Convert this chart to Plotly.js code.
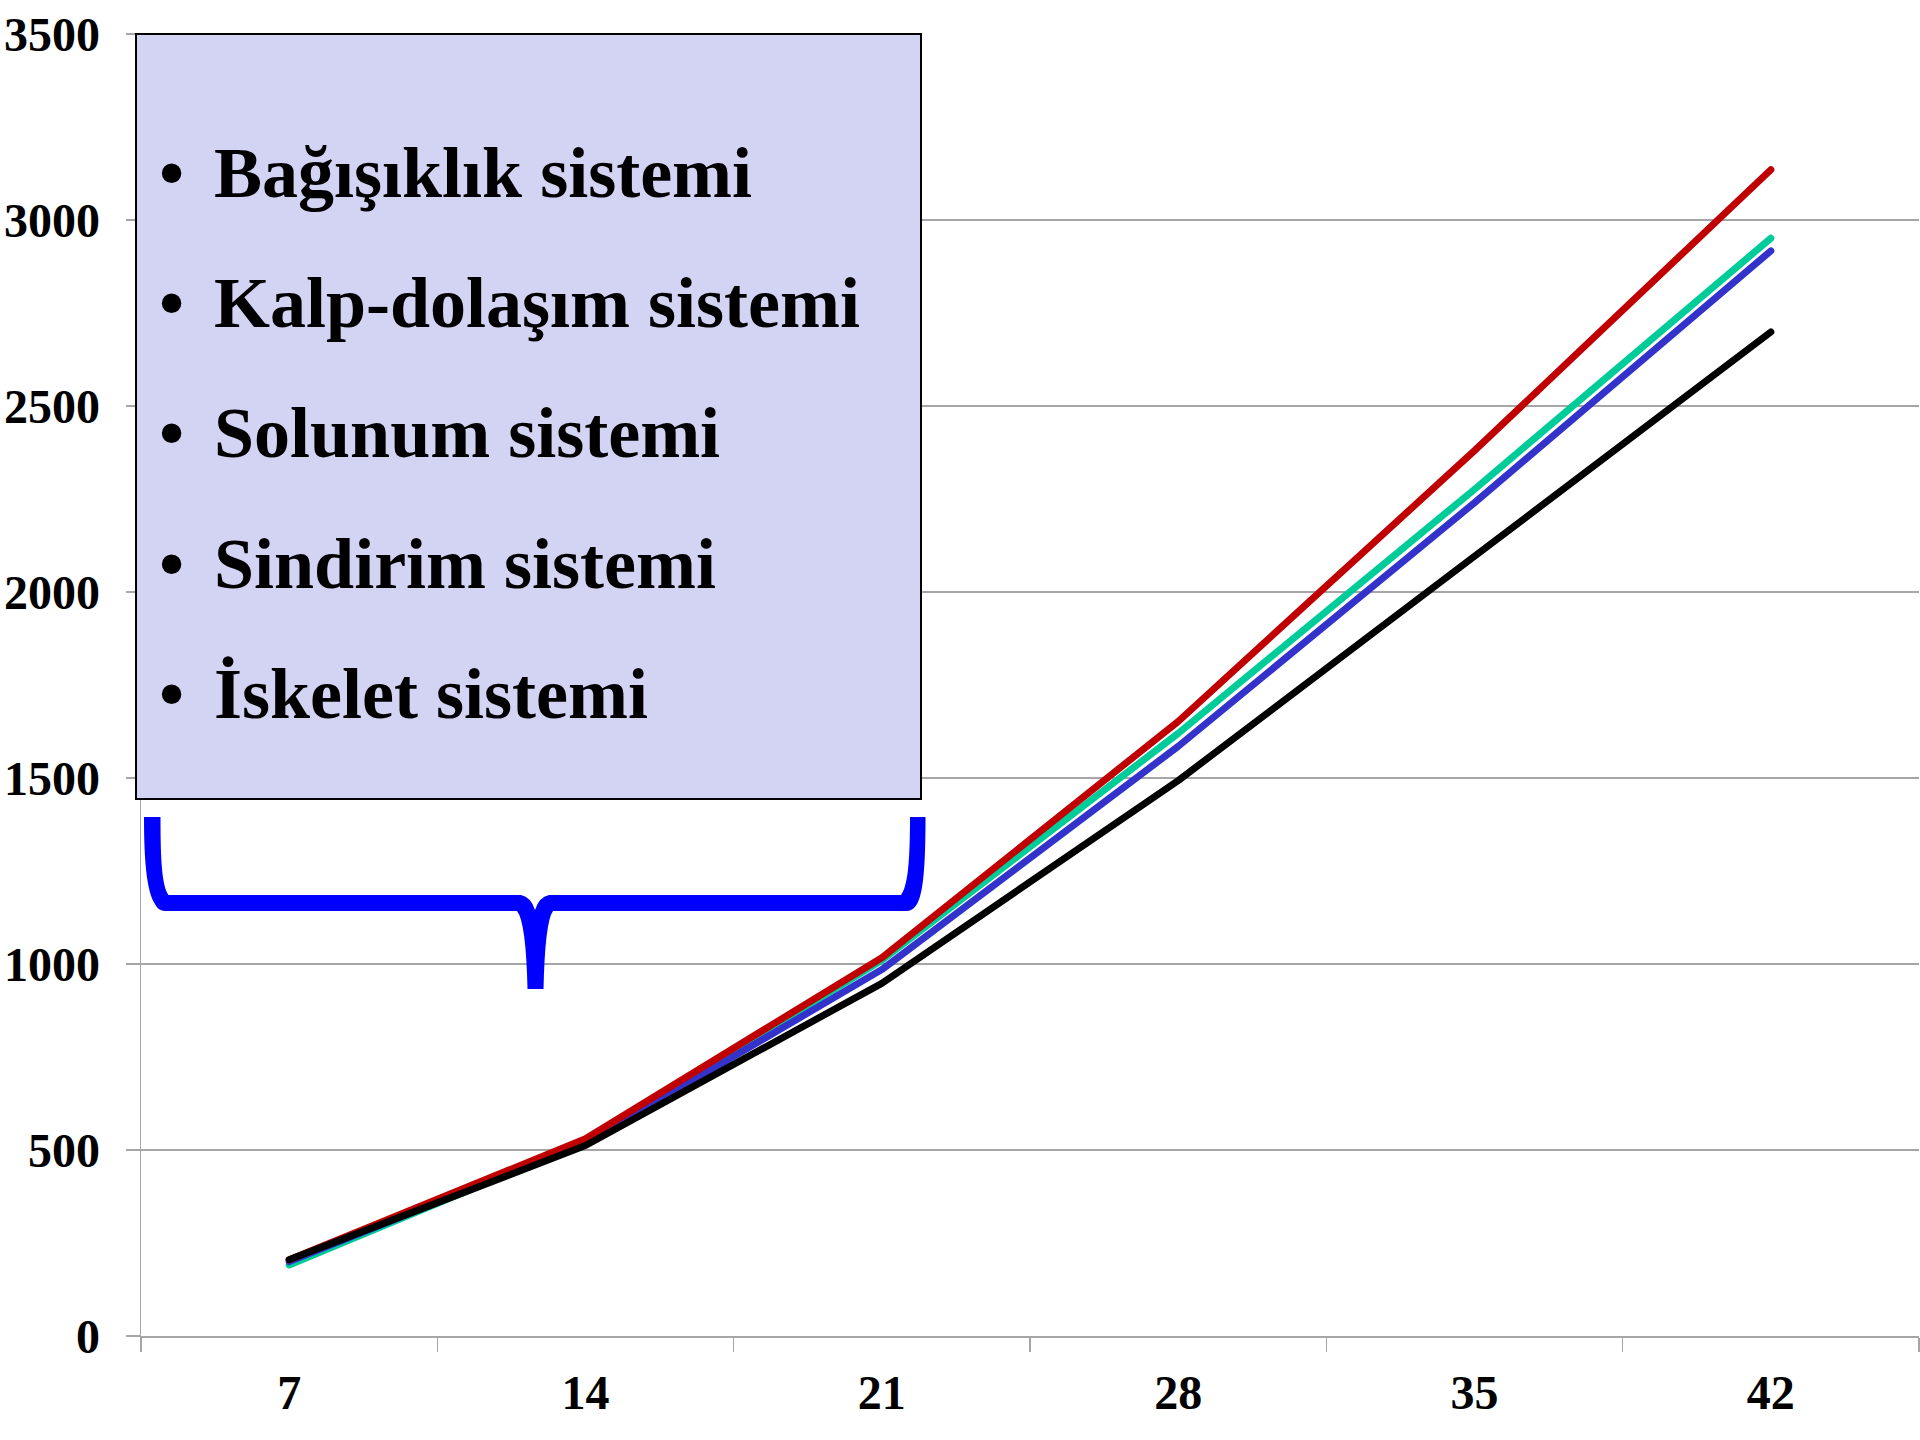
<!DOCTYPE html>
<html>
<head>
<meta charset="utf-8">
<script src="https://cdn.plot.ly/plotly-3.0.1.min.js"></script>
<style>
html,body{margin:0;padding:0;background:#fff;}
#chart{width:1920px;height:1440px;}
path.js-line{stroke-linecap:round !important;stroke-linejoin:round !important;}
</style>
</head>
<body>
<div id="chart"></div>
<script>
// ---- data ----
const days = ['7', '14', '21', '28', '35', '42'];
const seriesNames = ['Bağışıklık sistemi', 'Kalp-dolaşım sistemi', 'Solunum sistemi', 'Sindirim sistemi', 'İskelet sistemi'];
const greenValues = [191, 522, 1010, 1620, 2276, 2951];
const blueValues  = [200, 518, 985, 1585, 2240, 2917];
const redValues   = [205, 530, 1017, 1652, 2380, 3135];
const blackValues = [205, 512, 948, 1493, 2096, 2699];
const yTicks = [0, 500, 1000, 1500, 2000, 2500, 3000, 3500];

// ---- layout geometry (pixels) ----
const W = 1920, H = 1440;
const M = {l: 141, r: 1, t: 34, b: 104};
const PW = W - M.l - M.r, PH = H - M.t - M.b;
const px = x => (x - M.l) / PW;
const py = y => (H - M.b - y) / PH;

const serif = 'Liberation Serif, Times New Roman, serif';
const gridGray = '#a6a6a6';

function trace(vals, color) {
  return {x: days, y: vals, type: 'scatter', mode: 'lines',
          line: {color: color, width: 7}, hoverinfo: 'skip', showlegend: false};
}
const data = [
  trace(greenValues, '#00cc99'),
  trace(blueValues, '#3333cc'),
  trace(redValues, '#c00000'),
  trace(blackValues, '#000000')
];

// brace outline in pixel coordinates, converted to paper
const bracePts = [
  ['M', 144, 817], ['L', 160.5, 817],
  ['C', 160.5, 860, 162, 886, 168.5, 895],
  ['L', 521, 895],
  ['Q', 531, 897, 535, 910],
  ['Q', 539, 897, 549, 895],
  ['L', 901, 895],
  ['C', 908, 886, 910, 860, 910, 817],
  ['L', 925.5, 817],
  ['C', 925.5, 868, 923, 894, 917, 904],
  ['Q', 913, 911, 907, 911],
  ['L', 553, 911],
  ['Q', 545, 922, 543.5, 989],
  ['L', 527.5, 989],
  ['Q', 526, 922, 517, 911],
  ['L', 165, 911],
  ['Q', 158, 911, 155, 904],
  ['C', 147, 892, 144, 862, 144, 817],
  ['Z']
];
const bracePath = bracePts.map(p => {
  if (p[0] === 'Z') return 'Z';
  let s = p[0];
  for (let i = 1; i < p.length; i += 2) s += ' ' + px(p[i]).toFixed(5) + ',' + py(p[i + 1]).toFixed(5);
  return s;
}).join(' ');

const shapes = [
  {type: 'rect', xref: 'paper', yref: 'paper', x0: px(136), x1: px(921), y0: py(799), y1: py(34),
   fillcolor: 'rgb(211,211,243)', line: {color: '#000', width: 2}, layer: 'above'},
  {type: 'path', xref: 'paper', yref: 'paper', path: bracePath,
   fillcolor: '#0000ff', line: {width: 0}, layer: 'above'}
];

const annotations = [];
seriesNames.forEach((name, i) => {
  const yc = 172.6 + i * 130.4;
  annotations.push({xref: 'paper', yref: 'paper', x: px(171), y: py(yc), xanchor: 'center', yanchor: 'middle',
    text: '•', showarrow: false, font: {family: serif, size: 72, color: '#000', weight: 'bold'}});
  annotations.push({xref: 'paper', yref: 'paper', x: px(212), y: py(yc), xanchor: 'left', yanchor: 'middle',
    text: name, showarrow: false, font: {family: serif, size: 72, color: '#000', weight: 'bold'}});
});

const layout = {
  width: W, height: H,
  margin: M,
  paper_bgcolor: '#fff', plot_bgcolor: '#fff',
  showlegend: false,
  xaxis: {
    type: 'category', categoryorder: 'array', categoryarray: days,
    range: [-0.5, days.length - 0.5],
    showgrid: false, zeroline: false,
    showline: true, linecolor: gridGray, linewidth: 1.5,
    ticks: 'outside', tickson: 'boundaries', ticklen: 14, tickcolor: gridGray, tickwidth: 1.5,
    tickfont: {family: serif, size: 48, color: '#000', weight: 'bold'},
    ticklabelstandoff: 14
  },
  yaxis: {
    range: [0, 3500], tickvals: yTicks, ticktext: yTicks.map(String),
    showgrid: true, gridcolor: gridGray, gridwidth: 1.5, zeroline: false,
    showline: true, linecolor: gridGray, linewidth: 1.5,
    ticks: 'outside', ticklen: 14, tickcolor: gridGray, tickwidth: 1.5,
    tickfont: {family: serif, size: 48, color: '#000', weight: 'bold'},
    ticklabelstandoff: 16
  },
  shapes: shapes,
  annotations: annotations
};

Plotly.newPlot('chart', data, layout, {staticPlot: true, displayModeBar: false});
</script>
</body>
</html>
